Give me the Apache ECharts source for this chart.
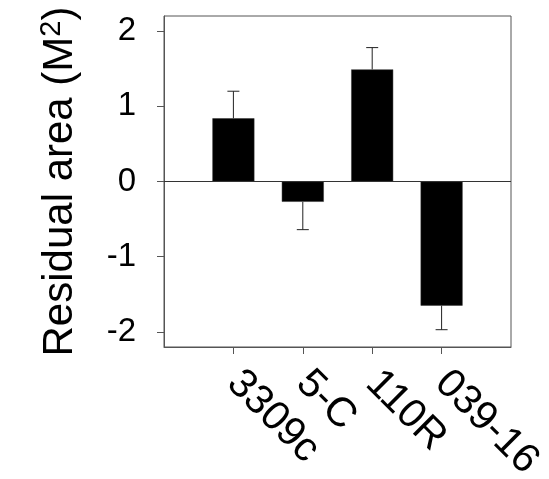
<!DOCTYPE html>
<html>
<head>
<meta charset="utf-8">
<script src="https://cdn.jsdelivr.net/npm/echarts@6/dist/echarts.min.js"></script>
<style>
html,body{margin:0;padding:0;background:#fff;}
#chart{width:549px;height:479px;}
</style>
</head>
<body>
<div id="chart"></div>
<script>
const categories = ['3309c', '5-C', '110R', '039-16'];
const values = [0.84, -0.27, 1.49, -1.65];
const errors = [0.36, 0.37, 0.29, 0.32];
const yTicks = [-2, -1, 0, 1, 2];

const positions = categories.map((c, i) => i + 1);
const barData = values.map((v, i) => [positions[i], v]);
const errData = values.map((v, i) => [positions[i], v, v >= 0 ? v + errors[i] : v - errors[i]]);

const chart = echarts.init(document.getElementById('chart'), null, {renderer: 'canvas'});
const font = 'Liberation Sans, Arial, sans-serif';
const axisCol = '#555';

chart.setOption({
  animation: false,
  backgroundColor: '#fff',
  grid: {left: 164, top: 16, right: 38, bottom: 132, containLabel: false, outerBoundsMode: 'none',
    show: true, borderColor: axisCol, borderWidth: 1, backgroundColor: 'transparent'},
  xAxis: {
    type: 'value', min: 0, max: positions.length + 1,
    axisLine: {show: true, onZero: false, lineStyle: {color: axisCol, width: 1}},
    axisTick: {show: true, length: 7, customValues: positions, lineStyle: {color: axisCol}},
    splitLine: {show: false},
    axisLabel: {
      customValues: positions, rotate: -45, margin: 30,
      fontFamily: font, fontSize: 41, color: '#000',
      formatter: v => categories[Math.round(v) - 1] || ''
    }
  },
  yAxis: {
    type: 'value', min: -2.2, max: 2.2,
    name: 'Residual area (M{sup|2})',
    nameLocation: 'middle', nameGap: 80,
    nameTextStyle: {fontFamily: font, fontSize: 42, color: '#000',
      rich: {sup: {fontFamily: font, fontSize: 29, color: '#000', verticalAlign: 'top', padding: [0, 0, 18, 0]}}},
    axisLine: {show: true, lineStyle: {color: axisCol, width: 1}},
    axisTick: {show: true, length: 7, customValues: yTicks, lineStyle: {color: axisCol}},
    splitLine: {show: false},
    axisLabel: {customValues: yTicks, margin: 28, fontFamily: font, fontSize: 33, color: '#000'}
  },
  series: [
    {
      type: 'bar', data: barData, barWidth: 42,
      itemStyle: {color: '#000', borderColor: '#333', borderWidth: 0.5},
      markLine: {
        silent: true, symbol: 'none', label: {show: false},
        lineStyle: {color: '#333', width: 1, type: 'solid'},
        data: [{yAxis: 0}]
      },
      z: 2
    },
    {
      type: 'custom', data: errData, z: 1,
      renderItem: function (params, api) {
        const x = api.value(0);
        const p0 = api.coord([x, api.value(1)]);
        const p1 = api.coord([x, api.value(2)]);
        const hw = 6;
        return {
          type: 'group',
          children: [
            {type: 'line', shape: {x1: p0[0], y1: p0[1], x2: p1[0], y2: p1[1]}, style: {stroke: '#222', lineWidth: 1}},
            {type: 'line', shape: {x1: p1[0] - hw, y1: p1[1], x2: p1[0] + hw, y2: p1[1]}, style: {stroke: '#222', lineWidth: 1}}
          ]
        };
      }
    }
  ]
});
</script>
</body>
</html>
